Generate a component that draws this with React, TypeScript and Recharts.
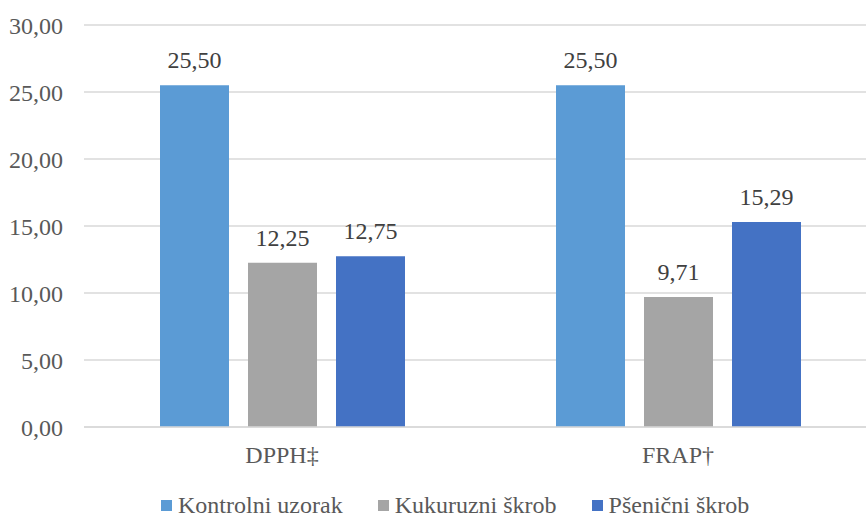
import React from 'react';
import { BarChart, Bar, XAxis, YAxis, CartesianGrid, Legend, LabelList } from 'recharts';

const categories = ['DPPH‡', 'FRAP†'];
const kontrolni = [25.5, 25.5];
const kukuruzni = [12.25, 9.71];
const psenicni = [12.75, 15.29];
const yTicks = [0, 5, 10, 15, 20, 25, 30];

const seriesNames = ['Kontrolni uzorak', 'Kukuruzni škrob', 'Pšenični škrob'];
const seriesColors = ['#5B9BD5', '#A5A5A5', '#4472C4'];

const data = categories.map((name, i) => ({
  name,
  kontrolni: kontrolni[i],
  kukuruzni: kukuruzni[i],
  psenicni: psenicni[i],
}));

const FONT = "'Liberation Serif', 'Times New Roman', serif";
const TEXT = '#595959';
const FS = 24;

const fmt = (v: number) => Number(v).toFixed(2).replace('.', ',');

const LegendContent = () => (
  <div
    style={{
      display: 'flex',
      boxSizing: 'border-box',
      height: 30,
      paddingTop: 6,
      alignItems: 'center',
      paddingLeft: 161,
      fontFamily: FONT,
      fontSize: FS,
      lineHeight: '20px',
      color: TEXT,
    }}
  >
    {seriesNames.map((n, i) => (
      <div key={n} style={{ display: 'flex', alignItems: 'center', marginRight: 35 }}>
        <span style={{ width: 11, height: 11, background: seriesColors[i], marginRight: 6, display: 'inline-block' }} />
        <span>{n}</span>
      </div>
    ))}
  </div>
);

const App: React.FC = () => {
  return (
    <div style={{ position: 'fixed', left: 0, top: 0, width: 866, height: 517, overflow: 'hidden', background: '#fff' }}>
      <BarChart
        width={880}
        height={517}
        data={data}
        margin={{ top: 25, right: 4, left: 0, bottom: 0 }}
        barGap={19}
        barSize={69}
      >
        <CartesianGrid vertical={false} stroke="#D9D9D9" strokeWidth={1.5} />
        <XAxis
          dataKey="name"
          height={60}
          tickLine={false}
          axisLine={{ stroke: '#D9D9D9', strokeWidth: 1.5 }}
          tickMargin={13}
          tick={{ fill: TEXT, fontSize: FS, fontFamily: FONT }}
        />
        <YAxis
          width={84}
          domain={[0, 30]}
          ticks={yTicks}
          tickFormatter={fmt}
          tickLine={false}
          axisLine={false}
          tickMargin={15}
          tick={{ fill: TEXT, fontSize: FS, fontFamily: FONT }}
        />
        <Legend verticalAlign="bottom" content={<LegendContent />} />
        <Bar dataKey="kontrolni" name={seriesNames[0]} fill={seriesColors[0]} isAnimationActive={false}>
          <LabelList dataKey="kontrolni" position="top" offset={17} formatter={fmt} fill="#404040" fontSize={FS} fontFamily={FONT} />
        </Bar>
        <Bar dataKey="kukuruzni" name={seriesNames[1]} fill={seriesColors[1]} isAnimationActive={false}>
          <LabelList dataKey="kukuruzni" position="top" offset={17} formatter={fmt} fill="#404040" fontSize={FS} fontFamily={FONT} />
        </Bar>
        <Bar dataKey="psenicni" name={seriesNames[2]} fill={seriesColors[2]} isAnimationActive={false}>
          <LabelList dataKey="psenicni" position="top" offset={17} formatter={fmt} fill="#404040" fontSize={FS} fontFamily={FONT} />
        </Bar>
      </BarChart>
    </div>
  );
};

export default App;
